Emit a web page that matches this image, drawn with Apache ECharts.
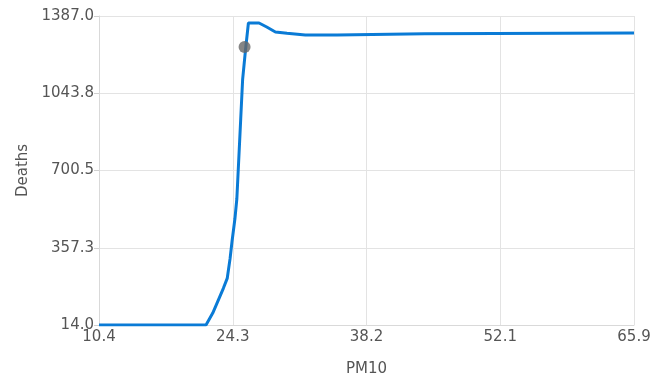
<!DOCTYPE html>
<html>
<head>
<meta charset="utf-8">
<script src="https://cdn.jsdelivr.net/npm/echarts@6/dist/echarts.min.js"></script>
<style>
  html, body { margin: 0; padding: 0; background: #fff; }
  #chart { width: 667px; height: 382px; }
</style>
</head>
<body>
<div id="chart"></div>
<script>
// PM10 concentration vs. deaths response curve
const pm10 = [10.4, 21.5, 22.2, 23.3, 23.7, 24.0, 24.2, 24.5, 24.7, 25.1, 25.3, 25.6, 25.9, 27.0, 27.8, 28.7, 29.9, 31.8, 35.1, 35.2, 44.2, 44.3, 65.9];
const deaths = [14, 14, 67, 177, 221, 310, 385, 486, 575, 928, 1105, 1237, 1356, 1356, 1338, 1316, 1310, 1303, 1303, 1308, 1308, 1312, 1312];

// highlighted observation
const markerPm10 = [25.5];
const markerDeaths = [1249];

const xTickLabels = ['10.4', '24.3', '38.2', '52.1', '65.9'];
const yTickLabels = ['14.0', '357.3', '700.5', '1043.8', '1387.0'];

const xMin = 10.4, xMax = 65.9;
const yMin = 14, yMax = 1387;

const font = 'Tahoma, "DejaVu Sans", sans-serif';
const textColor = '#555';

const chart = echarts.init(document.getElementById('chart'));
chart.setOption({
  animation: false,
  grid: { left: 99, right: 33, top: 16, bottom: 55, containLabel: false },
  xAxis: {
    type: 'value',
    min: xMin,
    max: xMax,
    interval: (xMax - xMin) / 4,
    name: 'PM10',
    nameLocation: 'middle',
    nameGap: 37,
    nameTextStyle: { color: textColor, fontSize: 15, fontFamily: font },
    axisLine: { show: true, lineStyle: { color: '#d9d9d9', width: 1 } },
    axisTick: { show: false },
    axisLabel: {
      color: textColor, fontSize: 15, fontFamily: font, margin: 5,
      formatter: (v, i) => xTickLabels[i]
    },
    splitLine: { show: true, lineStyle: { color: '#e3e3e3', width: 1 } }
  },
  yAxis: {
    type: 'value',
    min: yMin,
    max: yMax,
    interval: (yMax - yMin) / 4,
    name: 'Deaths',
    nameLocation: 'middle',
    nameGap: 64,
    nameTextStyle: { color: textColor, fontSize: 15, fontFamily: font },
    axisLine: { show: true, lineStyle: { color: '#d9d9d9', width: 1 } },
    axisTick: { show: true, length: 5, lineStyle: { color: '#d0d0d0' } },
    axisLabel: {
      color: textColor, fontSize: 15, fontFamily: font, margin: 5,
      formatter: (v, i) => yTickLabels[i]
    },
    splitLine: { show: true, lineStyle: { color: '#e3e3e3', width: 1 } }
  },
  series: [
    {
      type: 'line',
      data: pm10.map((x, i) => [x, deaths[i]]),
      showSymbol: false,
      lineStyle: { color: '#0a7bd6', width: 3 },
      itemStyle: { color: '#0a7bd6' }
    },
    {
      type: 'scatter',
      data: markerPm10.map((x, i) => [x, markerDeaths[i]]),
      symbolSize: 12,
      itemStyle: { color: '#666' },
      z: 5
    }
  ]
});
</script>
</body>
</html>
